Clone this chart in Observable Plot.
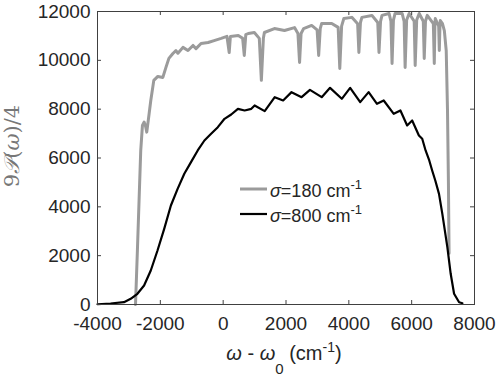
<!DOCTYPE html>
<html>
<head>
<meta charset="utf-8">
<script src="https://cdn.jsdelivr.net/npm/d3@7"></script>
<script src="https://cdn.jsdelivr.net/npm/@observablehq/plot@0.6"></script>
<style>
  html, body { margin: 0; padding: 0; background: #fff; }
  #chart { width: 498px; height: 377px; }
</style>
</head>
<body>
<div id="chart"></div>
<script>
// ---- data ----
const xTicks = [-4000, -2000, 0, 2000, 4000, 6000, 8000];
const yTicks = [0, 2000, 4000, 6000, 8000, 10000, 12000];

const seriesNames = ["σ=180 cm", "σ=800 cm"];

// sigma = 180 cm^-1 (gray)
const grayW = [-2790,-2730,-2677,-2624,-2570,-2517,-2470,-2432,-2357,-2304,-2208,-2080,-1920,-1824,-1728,-1600,-1504,-1440,-1280,-1120,-960,-864,-704,-480,-288,-64,120,192,230,480,620,672,720,800,992,1150,1216,1280,1312,1632,1952,2272,2380,2432,2480,2560,2816,2990,3040,3090,3136,3456,3660,3712,3770,3840,4096,4280,4320,4370,4416,4736,4920,4960,5010,5056,5280,5340,5376,5420,5472,5696,5760,5792,5840,5920,6080,6112,6160,6240,6370,6400,6440,6496,6690,6720,6740,6752,6860,6880,6900,6912,6980,7040,7100,7140,7170,7190];
const grayV = [0,2210,4260,6300,7330,7470,7300,7060,7810,8356,9180,9340,9300,9700,10080,10280,10400,10290,10530,10400,10610,10480,10690,10730,10810,10900,10980,10320,10980,11020,10900,10200,11050,11100,11140,10900,9180,10900,11140,11300,11220,11340,11100,9910,11100,11300,11430,11250,10200,11300,11510,11510,11350,9670,11400,11710,11760,11500,10320,11550,11760,11840,11550,10320,11600,11840,11920,11600,9870,11650,11920,11920,11600,9710,11650,11920,11600,9790,11650,11920,11600,10080,11600,11840,11500,9870,11500,11710,11400,10400,11400,11630,11500,11220,10400,8000,5000,2100];

// sigma = 800 cm^-1 (black)
const blackW = [-4000,-3584,-3157,-2944,-2730,-2517,-2304,-2090,-1877,-1664,-1450,-1237,-1024,-810,-597,-384,-170,43,256,470,683,896,1002,1322,1642,1909,2176,2496,2762,3136,3402,3776,4042,4362,4630,4896,5110,5430,5642,5856,6016,6230,6336,6443,6560,6650,6752,6870,6976,7136,7242,7350,7510,7616];
const blackV = [10,40,94,233,438,778,1393,2212,3100,4055,4737,5353,5831,6308,6717,6990,7263,7605,7782,8014,7946,8014,8151,7919,8492,8356,8697,8492,8792,8492,8874,8424,8874,8287,8697,8219,8356,7810,7946,7332,7537,6922,6787,6308,5898,5500,5079,4532,3713,2349,1257,440,94,53];

const gray = grayW.map((w, i) => ({w, v: grayV[i]}));
const black = blackW.map((w, i) => ({w, v: blackV[i]}));

const GRAY = "#9b9b9b";
const AXIS = "#404040";
const FONT = "'Liberation Sans', Arial, Helvetica, sans-serif";

const chart = Plot.plot({
  width: 498,
  height: 377,
  marginLeft: 97,
  marginRight: 24,
  marginTop: 11,
  marginBottom: 73,
  style: {fontFamily: FONT, background: "#fff", color: "#262626"},
  x: {domain: [-4000, 8000], label: null},
  y: {domain: [0, 12000], label: null},
  marks: [
    Plot.line(gray, {x: "w", y: "v", stroke: GRAY, strokeWidth: 3, strokeLinejoin: "round"}),
    Plot.line(black, {x: "w", y: "v", stroke: "#000", strokeWidth: 2.2, strokeLinejoin: "round"}),
    // inward ticks on all four sides
    Plot.ruleX(xTicks, {x: d => d, y1: 0, y2: 0, insetBottom: 4, stroke: AXIS}),
    Plot.ruleX(xTicks, {x: d => d, y1: 12000, y2: 12000, insetTop: 4, stroke: AXIS}),
    Plot.ruleY(yTicks, {y: d => d, x1: -4000, x2: -4000, insetLeft: 4, stroke: AXIS}),
    Plot.ruleY(yTicks, {y: d => d, x1: 8000, x2: 8000, insetRight: 4, stroke: AXIS}),
    Plot.frame({stroke: AXIS}),
    Plot.axisX(xTicks, {tickSize: 0, tickPadding: 12, fontSize: 19, label: null, tickFormat: d => `${d}`, fill: "#262626"}),
    Plot.axisY(yTicks, {tickSize: 0, tickPadding: 7, fontSize: 19, label: null, tickFormat: d => `${d}`, fill: "#262626"})
  ]
});

document.getElementById("chart").appendChild(chart);

const svg = d3.select(chart);

// y-axis label
const yl = svg.append("text")
  .attr("transform", "translate(19,146) rotate(-90)")
  .attr("text-anchor", "middle")
  .attr("fill", "#777")
  .attr("font-family", "'DejaVu Serif', 'Liberation Serif', serif")
  .attr("font-size", 21);
yl.append("tspan").text("9");
yl.append("tspan").attr("font-style", "italic").text("𝒫");
yl.append("tspan").text("(");
yl.append("tspan").attr("font-style", "italic").text("ω");
yl.append("tspan").text(")/4");

// x-axis label
const xl = svg.append("text")
  .attr("x", 284).attr("y", 360)
  .attr("text-anchor", "middle")
  .attr("fill", "#262626")
  .attr("font-family", FONT)
  .attr("font-size", 20);
xl.append("tspan").attr("font-style", "italic").text("ω");
xl.append("tspan").text(" - ");
xl.append("tspan").attr("font-style", "italic").text("ω");
xl.append("tspan").attr("dy", 14).attr("font-size", 15).text("0");
xl.append("tspan").attr("dy", -14).text(" (cm");
xl.append("tspan").attr("dy", -8).attr("font-size", 14).text("-1");
xl.append("tspan").attr("dy", 8).text(")");

// legend
const legend = [
  {name: seriesNames[0], color: GRAY, width: 3, y: 189},
  {name: seriesNames[1], color: "#000", width: 2.2, y: 214}
];
legend.forEach(item => {
  svg.append("line")
    .attr("x1", 240).attr("x2", 267)
    .attr("y1", item.y).attr("y2", item.y)
    .attr("stroke", item.color).attr("stroke-width", item.width);
  const t = svg.append("text")
    .attr("x", 270).attr("y", item.y + 8)
    .attr("text-anchor", "start")
    .attr("fill", "#262626")
    .attr("font-family", FONT)
    .attr("font-size", 18);
  const [sig, rest] = item.name.split("=");
  t.append("tspan").attr("font-style", "italic").text(sig);
  t.append("tspan").text("=" + rest);
  t.append("tspan").attr("dy", -8).attr("font-size", 13).text("-1");
});
</script>
</body>
</html>
